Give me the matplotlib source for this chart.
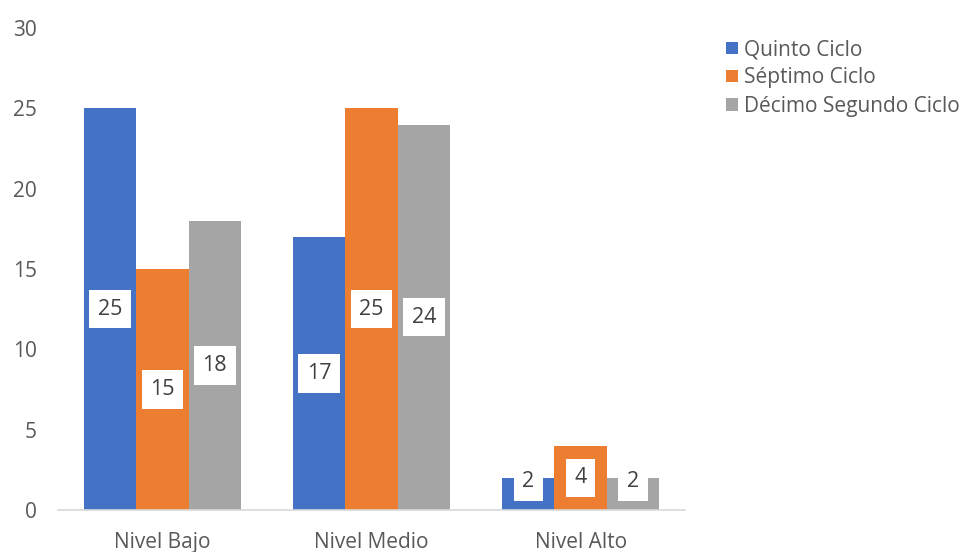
import matplotlib.pyplot as plt
import numpy as np

plt.rcParams['font.family'] = ['Open Sans', 'DejaVu Sans']

categories = ['Nivel Bajo', 'Nivel Medio', 'Nivel Alto']
series_names = ['Quinto Ciclo', 'Séptimo Ciclo', 'Décimo Segundo Ciclo']
quinto = [25, 17, 2]
septimo = [15, 25, 4]
decimo = [18, 24, 2]
colors = ['#4472C4', '#ED7D31', '#A5A5A5']

fig = plt.figure(figsize=(9.65, 5.52), dpi=100)
ax = fig.add_axes([0.060, 0.076, 0.650, 0.873])

x = np.arange(len(categories))
width = 0.25
text_col = '#595959'
min_label_y = 1.75  # keep label boxes off the baseline (like Excel does)

for i, (vals, name, col) in enumerate(zip([quinto, septimo, decimo], series_names, colors)):
    xpos = x + (i - 1) * width
    ax.bar(xpos, vals, width, color=col, label=name)
    for xp, v in zip(xpos, vals):
        ax.text(xp, max(v / 2, min_label_y), str(v), ha='center', va='center',
                fontsize=15.5, color='#404040',
                bbox=dict(boxstyle='square,pad=0.4', fc='white', ec='none'))

ax.set_xlim(-0.5, 2.5)
ax.set_ylim(0, 30)
ax.set_yticks(range(0, 31, 5))
ax.set_xticks(x)
ax.set_xticklabels(categories)
ax.tick_params(axis='both', length=0, labelsize=15, colors=text_col)
ax.tick_params(axis='y', pad=15)
ax.tick_params(axis='x', pad=16)

for s in ['top', 'right', 'left']:
    ax.spines[s].set_visible(False)
ax.spines['bottom'].set_color('#D9D9D9')
ax.spines['bottom'].set_linewidth(1.2)

fig.legend(loc='upper left', bbox_to_anchor=(0.733, 0.963), frameon=False,
           fontsize=15, handlelength=0.55, handleheight=0.55, handletextpad=0.3,
           labelspacing=0.35, labelcolor=text_col)

fig.savefig('out.png', dpi=100)
